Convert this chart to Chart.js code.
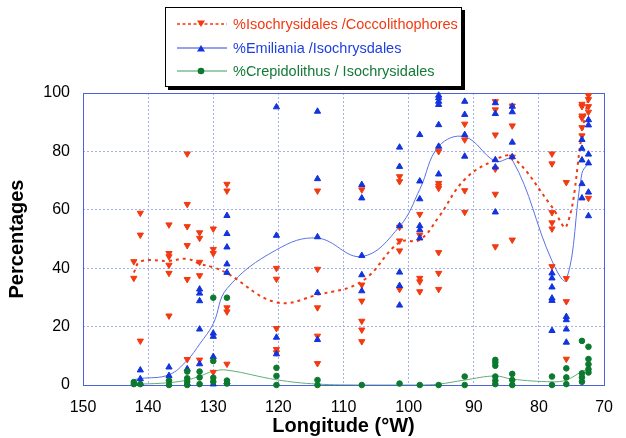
<!DOCTYPE html>
<html><head><meta charset="utf-8">
<script src="https://cdn.jsdelivr.net/npm/chart.js@4"></script>
<style>
html,body{margin:0;padding:0;background:#fff;}
#wrap{position:relative;width:626px;height:438px;overflow:hidden;}
#legend{position:absolute;left:165px;top:7px;width:295px;height:78px;border:1px solid #000;box-shadow:3px 3px 0 #000;background:#fff;font-family:Arial,"Liberation Sans",sans-serif;font-size:14.5px;}
.row{position:absolute;left:0;height:20px;width:100%;}
.row svg{position:absolute;left:11px;top:0;}
.row span{position:absolute;left:67px;top:0;line-height:20px;white-space:nowrap;}
</style></head>
<body>
<div id="wrap">
<canvas id="c" width="626" height="438"></canvas>
<div id="legend">
 <div class="row" style="top:6px"><svg width="52" height="20"><line x1="0" y1="10" x2="50" y2="10" stroke="#f23a12" stroke-width="1.3" stroke-dasharray="3,2.5"/><polygon points="20,6.5 28,6.5 24,13" fill="#f23a12"/></svg><span style="color:#f23a12">%Isochrysidales /Coccolithophores</span></div>
 <div class="row" style="top:30px"><svg width="52" height="20"><line x1="0" y1="10" x2="50" y2="10" stroke="#2a45e0" stroke-width="1"/><polygon points="20,13.5 28,13.5 24,7" fill="#1233dd"/></svg><span style="color:#1e3ee2">%Emiliania /Isochrysdales</span></div>
 <div class="row" style="top:53px"><svg width="52" height="20"><line x1="0" y1="10" x2="50" y2="10" stroke="#3a9a55" stroke-width="1"/><circle cx="24" cy="10" r="3.3" fill="#0b7a2e"/></svg><span style="color:#137a36">%Crepidolithus / Isochrysidales</span></div>
</div>
</div>
<script>
const lonTicks = [150,140,130,120,110,100,90,80,70];
const pctTicks = [0,20,40,60,80,100];
const stations = [142.2,141.2,136.8,134.0,132.1,130.0,127.9,120.3,114.0,107.2,101.4,98.3,95.4,91.4,86.7,84.1,78.0,75.8,73.4,72.4];

const isoPoints = [
 [42.3,36.6],
 [58.9,51.4,15.1],
 [54.9,45.1,44.0,41.1,38.3,23.7],
 [79.2,61.9,54.3,47.8,36.2,8.8],
 [52.2,50.3,42.1,37.5,8.6],
 [53.5,46.5,45.1,4.4],
 [68.8,66.5,26.5,25.1,7.2],
 [40.0,36.3,19.4,12.2,11.1],
 [66.5,39.7,26.5,16.8,7.4],
 [66.9,34.3,28.8,21.9,18.9,14.9],
 [71.4,69.7,54.1,49.4,46.0,32.8],
 [58.5,51.4,36.6,35.4,32.0],
 [80.0,69.1,68.2,67.4,45.4,38.3,32.8],
 [89.4,84.0,66.6,59.2],
 [97.1,94.3,85.7,74.0,65.4,47.4],
 [95.6,88.8,78.1,49.7],
 [79.2,75.8,59.1,55.6,53.5,40.6],
 [69.4,36.5,28.6,8.9],
 [96.2,95.4,92.2,91.4,88.2,85.4],
 [99.2,97.8,95.4,93.5,64.0]
];
const emiPoints = [
 [],
 [5.1,2.1,0.5],
 [6.1,3.2],
 [5.5,0.5],
 [32.8,31.4,28.8,19.1,7.2],
 [17.7,16.6,9.7,0.3],
 [58.0,51.8,47.2,41.4,38.5,1.0],
 [95.2,51.2,16.3,10.6],
 [93.7,70.6,50.7,31.6,15.5],
 [68.6,64.0,44.3,37.7,32.2],
 [81.4,74.8,54.5,38.6,34.0,27.3],
 [85.7,69.8,63.7,54.5,53.1,50.3],
 [99.2,98.3,97.1,96.0,89.1,81.7,72.2],
 [97.1,92.6,85.7,78.3],
 [96.6,92.9,77.1,74.6,59.2],
 [95.4,93.5,83.1,78.1],
 [38.3,36.6,33.5,29.7,28.9,18.6],
 [23.4,22.3,19.1,14.6],
 [84.0,81.0,77.0,68.9,64.0],
 [90.8,89.0,79.0,76.0,66.0,57.9]
];
const crePoints = [
 [1.0,0.3],
 [0.3],
 [1.5,0],
 [4.6,2.3,1.1,0],
 [4.6,2.6,0.3],
 [29.9,8.2,2.5,1.1],
 [29.9,1.5,0.5],
 [5.9,3.1,0],
 [1.7,0],
 [0],
 [0.5],
 [0],
 [0],
 [2.9,0],
 [8.6,7.7,6.6,2.9,1.5,0.3],
 [3.8,1.7,0],
 [2.9,0],
 [5.7,2.6,0.3],
 [15.1,4.0,2.6,1.1],
 [13.1,8.9,7.1,5.4,4.3]
];
const isoCurve = [38.5,42.3,42.5,43.2,41.5,40.3,38.3,28.3,30.9,35.5,48.9,49.7,57.5,70.4,77.1,78.1,61.0,54.3,86.0,99.0];
const emiCurve = [1.8,2.2,3.5,8.5,14.0,21.0,33.0,46.3,50.3,44.0,54.3,67.0,81.7,85.0,76.6,77.1,42.5,36.0,72.5,76.0];
const creCurve = [0.3,0.3,0.8,1.7,3.0,4.7,5.1,1.8,0.3,0,0,0,0.3,1.7,3.1,2.0,1.1,1.7,4.6,5.4];

const F = 'Arial, "Liberation Sans", sans-serif';
const RED = '#f23a12', BLUE = '#1233dd', GREEN = '#0b7a2e';

function pts(arr){ const out=[]; stations.forEach((lon,i)=>arr[i].forEach(v=>out.push({x:lon,y:v}))); return out; }
function curve(arr){ return stations.map((lon,i)=>({x:lon,y:arr[i]})); }

const framePlugin = {
  id:'frame',
  beforeDatasetsDraw(chart){
    const {ctx, chartArea:a} = chart;
    ctx.save(); ctx.strokeStyle='#4a62da'; ctx.lineWidth=1;
    ctx.strokeRect(Math.round(a.left)+0.5, Math.round(a.top)+0.5, Math.round(a.right-a.left), Math.round(a.bottom-a.top));
    ctx.restore();
  }
};

new Chart(document.getElementById('c'), {
  type:'scatter',
  data:{datasets:[
    {label:'cre', data:pts(crePoints), pointStyle:'circle', pointRadius:2.8, backgroundColor:GREEN, borderColor:GREEN, borderWidth:1, clip:false, order:1},
    {label:'emi', data:pts(emiPoints), pointStyle:'triangle', pointRadius:3.6, backgroundColor:BLUE, borderColor:BLUE, borderWidth:1, clip:false, order:2},
    {label:'iso', data:pts(isoPoints), pointStyle:'triangle', rotation:180, pointRadius:3.6, backgroundColor:RED, borderColor:RED, borderWidth:1, clip:false, order:3},
    {label:'isoC', data:curve(isoCurve), showLine:true, pointRadius:0, borderColor:'#f03a10', borderWidth:2, borderDash:[3,4], tension:0.4, order:4},
    {label:'emiC', data:curve(emiCurve), showLine:true, pointRadius:0, borderColor:'#5a72e6', borderWidth:1, tension:0.4, order:5},
    {label:'creC', data:curve(creCurve), showLine:true, pointRadius:0, borderColor:'#62ad74', borderWidth:1, tension:0.4, order:6}
  ]},
  options:{
    responsive:false, animation:false, devicePixelRatio:1,
    layout:{padding:{top:93,right:12,left:0,bottom:0}},
    plugins:{legend:{display:false}, tooltip:{enabled:false}},
    scales:{
      x:{type:'linear', min:70, max:150, reverse:true,
        afterBuildTicks:s=>{ s.ticks = lonTicks.map(v=>({value:v})); },
        afterFit:s=>{ s.height = 53; },
        ticks:{font:{family:F,size:16}, color:'#000', padding:13, maxRotation:0, autoSkip:false},
        grid:{color:'#a3b0f2', drawTicks:false, lineWidth:1},
        border:{display:false, dash:[2,2]},
        title:{display:true, text:'Longitude (°W)', color:'#000', font:{family:F,size:20,weight:'bold'}, padding:{top:0,bottom:0}}
      },
      y:{type:'linear', min:0, max:100,
        afterBuildTicks:s=>{ s.ticks = pctTicks.map(v=>({value:v})); },
        afterFit:s=>{ s.width = 83; },
        ticks:{font:{family:F,size:16}, color:'#000', padding:13},
        grid:{color:'#a3b0f2', drawTicks:false, lineWidth:1},
        border:{display:false, dash:[2,2]},
        title:{display:true, text:'Percentages', color:'#000', font:{family:F,size:20,weight:'bold'}, padding:{top:5,bottom:0}}
      }
    }
  },
  plugins:[framePlugin]
});
</script>
</body></html>
